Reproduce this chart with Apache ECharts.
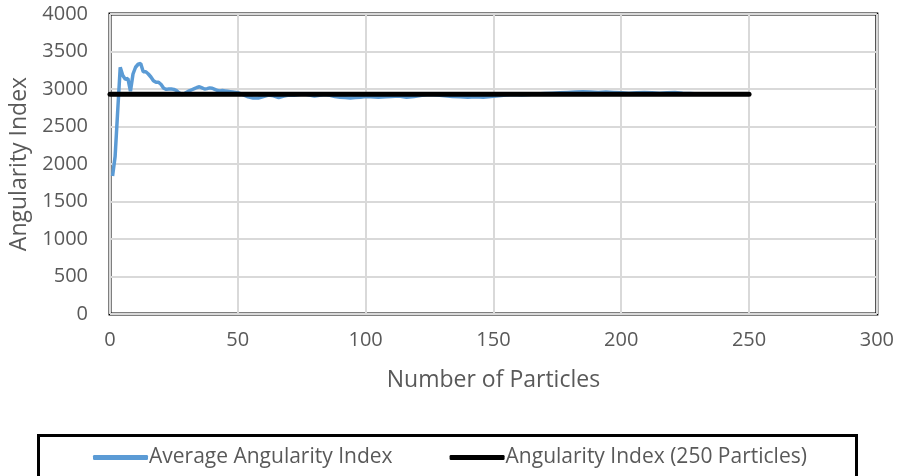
<!DOCTYPE html>
<html>
<head>
<meta charset="utf-8">
<script src="https://cdn.jsdelivr.net/npm/echarts@6/dist/echarts.min.js"></script>
<style>
html,body{margin:0;padding:0;background:#fff;}
#c{width:897px;height:476px;}
</style>
</head>
<body>
<div id="c"></div>
<script>
// Data
const avgParticles = [1,2,3,4,5,6,7,8,9,10,11,12,13,14,15,16,17,18,19,20,21,22,23,24,25,26,27,28,29,30,31,32,33,34,35,36,37,38,39,40,41,42,43,44,45,46,47,48,50,52,54,56,58,60,62,64,66,68,70,72,74,76,78,80,82,84,86,88,90,92,94,96,98,100,102,105,108,110,113,116,119,122,125,128,131,134,137,140,143,146,149,152,155,158,161,164,167,170,173,176,179,182,185,188,191,194,197,200,203,206,209,212,215,218,221,224,227,230,233,236,240];
const avgValues = [1840,2100,2700,3290,3180,3130,3140,2970,3200,3290,3330,3340,3230,3230,3200,3160,3110,3090,3090,3060,3010,2995,3000,3000,2995,2980,2950,2925,2935,2955,2975,2990,3005,3020,3030,3015,3000,3005,3015,3010,2995,2980,2975,2980,2975,2970,2965,2960,2950,2925,2895,2880,2880,2900,2920,2910,2885,2905,2920,2915,2925,2935,2920,2905,2915,2925,2915,2900,2890,2885,2880,2885,2890,2900,2895,2890,2895,2900,2905,2890,2900,2915,2925,2920,2910,2900,2895,2890,2895,2890,2900,2910,2920,2925,2920,2925,2935,2940,2945,2950,2955,2960,2965,2960,2955,2960,2955,2950,2945,2950,2955,2950,2945,2950,2955,2945,2940,2935,2935,2930,2930];
const refParticles = [0,250];
const refValues = [2930,2930];
const seriesNames = ['Average Angularity Index','Angularity Index (250 Particles)'];
const xTicks = {min:0,max:300,interval:50};
const yTicks = {min:0,max:4000,interval:500};
const xTitle = 'Number of Particles';
const yTitle = 'Angularity Index';

const FONT = 'Open Sans';
const chart = echarts.init(document.getElementById('c'), null, {renderer:'canvas'});
chart.setOption({
  animation:false,
  backgroundColor:'#fff',
  textStyle:{fontFamily:FONT},
  grid:{left:110,right:19,top:14,bottom:162,show:true,borderColor:'#000',borderWidth:3,backgroundColor:'transparent'},
  xAxis:{type:'value',min:xTicks.min,max:xTicks.max,interval:xTicks.interval,
    name:xTitle,nameLocation:'middle',nameGap:55,
    nameTextStyle:{fontFamily:FONT,fontSize:23,color:'#595959'},
    axisLine:{show:false},axisTick:{show:false},
    axisLabel:{fontFamily:FONT,fontSize:20,color:'#595959',margin:16,formatter:v=>String(v)},
    splitLine:{show:true,lineStyle:{color:'#d9d9d9',width:2}}},
  yAxis:{type:'value',min:yTicks.min,max:yTicks.max,interval:yTicks.interval,
    name:yTitle,nameLocation:'middle',nameGap:79,nameRotate:90,
    nameTextStyle:{fontFamily:FONT,fontSize:23,color:'#595959'},
    axisLine:{show:false},axisTick:{show:false},
    axisLabel:{fontFamily:FONT,fontSize:20,color:'#595959',margin:22,formatter:v=>String(v)},
    splitLine:{show:true,lineStyle:{color:'#d9d9d9',width:2}}},
  legend:{left:88,top:442,itemWidth:55,itemHeight:5,itemGap:57,
    textStyle:{fontFamily:FONT,fontSize:21,color:'#595959',padding:[0,0,0,-4]},
    data:[{name:seriesNames[0],icon:'roundRect'},{name:seriesNames[1],icon:'roundRect'}]},
  graphic:[{type:'rect',left:36,top:433,shape:{width:818,height:60},
    style:{fill:'none',stroke:'#000',lineWidth:3},silent:true}],
  series:[
    {name:seriesNames[0],type:'line',showSymbol:false,symbol:'none',
     data:avgParticles.map((x,i)=>[x,avgValues[i]]),
     lineStyle:{color:'#5b9bd5',width:3.5},itemStyle:{color:'#5b9bd5'},z:2},
    {name:seriesNames[1],type:'line',showSymbol:false,symbol:'none',
     data:refParticles.map((x,i)=>[x,refValues[i]]),
     lineStyle:{color:'#000',width:5,cap:'round'},itemStyle:{color:'#000'},z:3}
  ]
});
</script>
</body>
</html>
